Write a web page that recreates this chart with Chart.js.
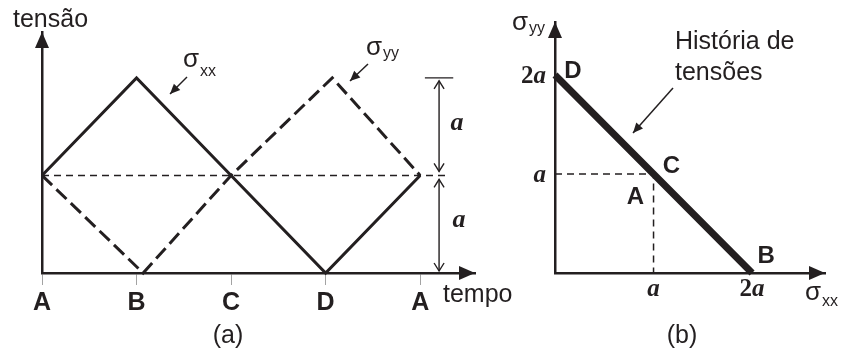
<!DOCTYPE html>
<html>
<head>
<meta charset="utf-8">
<script src="https://cdn.jsdelivr.net/npm/chart.js@4.4.1/dist/chart.umd.min.js"></script>
<style>
  body { margin: 0; background: #fff; }
  canvas { position: absolute; top: 0; }
  #canvas-tempo { left: 0; }
  #canvas-hist { left: 490px; }
</style>
</head>
<body>
<canvas id="canvas-tempo" width="530" height="356"></canvas>
<canvas id="canvas-hist" width="355" height="356"></canvas>
<script>
// tensões em unidades de a, tempo em quartos de ciclo
const tempoLabels = ["A", "B", "C", "D", "A"];
const tempoXX = [0, 1, 2, 3, 4];
const sigmaXX = [1, 2, 1, 0, 1];
const tempoYY = [0, 1.07, 2, 3.07, 4];
const sigmaYY = [1, 0, 1, 2, 1];
const nivelTempo = [0, 4.28];
const nivelSigma = [1, 1];

// linhas de chamada do ponto A no plano (b)
const guiaXX = [0, 1, 1];
const guiaYY = [1, 1, 0];
const eixoTicks = [1, 2];

const INK = "#231f20";
const SANS = '"Liberation Sans", Arial, sans-serif';
const SERIF = '"Liberation Serif", "Times New Roman", serif';

const pts = (xs, ys) => xs.map((x, i) => ({ x: x, y: ys[i] }));

function arrowHead(ctx, x, y, ang, len, half) {
  ctx.save();
  ctx.translate(x, y);
  ctx.rotate(ang);
  ctx.beginPath();
  ctx.moveTo(0, 0);
  ctx.lineTo(-len, -half);
  ctx.lineTo(-len, half);
  ctx.closePath();
  ctx.fill();
  ctx.restore();
}

function openHead(ctx, x, y, ang) {
  ctx.save();
  ctx.translate(x, y);
  ctx.rotate(ang);
  ctx.beginPath();
  ctx.moveTo(-8, -5);
  ctx.lineTo(0, 0);
  ctx.lineTo(-8, 5);
  ctx.stroke();
  ctx.restore();
}

function pointer(ctx, x1, y1, x2, y2) {
  ctx.lineWidth = 1.5;
  ctx.beginPath();
  ctx.moveTo(x1, y1);
  ctx.lineTo(x2, y2);
  ctx.stroke();
  arrowHead(ctx, x2, y2, Math.atan2(y2 - y1, x2 - x1), 10, 4.5);
}

function sigmaLabel(ctx, x, y, sub, dy) {
  ctx.textAlign = "left";
  ctx.textBaseline = "alphabetic";
  ctx.font = "26px " + SANS;
  ctx.fillText("σ", x, y);
  const w = ctx.measureText("σ").width;
  ctx.font = "16px " + SANS;
  ctx.fillText(sub, x + w + 1, y + dy);
}

function aLabel(ctx, text, x, y, align) {
  // "2" reto e "a" em itálico
  ctx.textBaseline = "middle";
  const num = text.slice(0, -1);
  ctx.font = "bold 25px " + SERIF;
  const wn = ctx.measureText(num).width;
  ctx.font = "italic bold 25px " + SERIF;
  const wa = ctx.measureText("a").width;
  let left = x;
  if (align === "center") left = x - (wn + wa) / 2;
  if (align === "right") left = x - (wn + wa);
  ctx.textAlign = "left";
  ctx.font = "bold 25px " + SERIF;
  ctx.fillText(num, left, y);
  ctx.font = "italic bold 25px " + SERIF;
  ctx.fillText("a", left + wn, y);
}

const tempoNotes = {
  id: "tempoNotes",
  afterDraw(chart) {
    const { ctx, chartArea: area, scales: { x, y } } = chart;
    ctx.save();
    ctx.fillStyle = INK;
    ctx.strokeStyle = INK;

    arrowHead(ctx, area.left, area.top, -Math.PI / 2, 16, 7);
    arrowHead(ctx, area.right, area.bottom, 0, 16, 7);

    // cota da amplitude a
    const bx = x.getPixelForValue(4.2);
    const y2 = y.getPixelForValue(2), y1 = y.getPixelForValue(1), y0 = y.getPixelForValue(0);
    ctx.lineWidth = 1.4;
    ctx.beginPath();
    ctx.moveTo(x.getPixelForValue(4.05), y2);
    ctx.lineTo(x.getPixelForValue(4.35), y2);
    ctx.moveTo(bx, y2 + 3);
    ctx.lineTo(bx, y1 - 4);
    ctx.moveTo(bx, y1 + 4);
    ctx.lineTo(bx, y0 - 2);
    ctx.stroke();
    openHead(ctx, bx, y2 + 3, -Math.PI / 2);
    openHead(ctx, bx, y1 - 4, Math.PI / 2);
    openHead(ctx, bx, y1 + 4, -Math.PI / 2);
    openHead(ctx, bx, y0 - 2, Math.PI / 2);
    ctx.font = "italic bold 26px " + SERIF;
    ctx.textAlign = "center";
    ctx.textBaseline = "middle";
    ctx.fillText("a", bx + 18, (y2 + y1) / 2 - 3);
    ctx.fillText("a", bx + 20, (y1 + y0) / 2 - 4);

    sigmaLabel(ctx, 183, 67, "xx", 9);
    pointer(ctx, 187, 77, 170, 94);
    sigmaLabel(ctx, 366, 55, "yy", 3);
    pointer(ctx, 368, 64, 350, 81);

    ctx.font = "25px " + SANS;
    ctx.textAlign = "left";
    ctx.textBaseline = "alphabetic";
    ctx.fillText("tensão", 13, 27);
    ctx.fillText("tempo", 443, 302);
    ctx.textAlign = "center";
    ctx.textBaseline = "middle";
    ctx.fillText("(a)", 228, 336);
    ctx.restore();
  }
};

const histNotes = {
  id: "histNotes",
  afterDraw(chart) {
    const { ctx, chartArea: area, scales: { x, y } } = chart;
    ctx.save();
    ctx.fillStyle = INK;
    ctx.strokeStyle = INK;

    arrowHead(ctx, area.left, area.top, -Math.PI / 2, 16, 7);
    arrowHead(ctx, area.right, area.bottom, 0, 16, 7);

    eixoTicks.forEach((v) => {
      const t = v === 1 ? "a" : v + "a";
      aLabel(ctx, t, x.getPixelForValue(0) - 9, y.getPixelForValue(v) + 2, "right");
      aLabel(ctx, t, x.getPixelForValue(v), y.getPixelForValue(0) + 17, "center");
    });

    // letras dos instantes sobre a trajetória
    const offs = { A: [-18, 23], B: [14, -17], C: [18, -8], D: [18, -4] };
    ctx.font = "bold 24px " + SANS;
    ctx.textAlign = "center";
    ctx.textBaseline = "middle";
    tempoLabels.slice(0, 4).forEach((lab, i) => {
      const o = offs[lab];
      ctx.fillText(lab, x.getPixelForValue(sigmaXX[i]) + o[0], y.getPixelForValue(sigmaYY[i]) + o[1]);
    });

    sigmaLabel(ctx, 22, 30, "yy", 3);
    sigmaLabel(ctx, 315, 300, "xx", 6);

    ctx.font = "25px " + SANS;
    ctx.textAlign = "left";
    ctx.textBaseline = "alphabetic";
    ctx.fillText("História de", 185, 49);
    ctx.fillText("tensões", 185, 80);
    pointer(ctx, 183, 88, 143, 133);
    ctx.textAlign = "center";
    ctx.textBaseline = "middle";
    ctx.fillText("(b)", 192, 336);
    ctx.restore();
  }
};

new Chart(document.getElementById("canvas-tempo"), {
  type: "scatter",
  data: {
    datasets: [
      {
        label: "σxx",
        data: pts(tempoXX, sigmaXX),
        showLine: true,
        borderColor: INK,
        borderWidth: 3,
        pointRadius: 0,
        clip: false
      },
      {
        label: "σyy",
        data: pts(tempoYY, sigmaYY),
        showLine: true,
        borderColor: INK,
        borderWidth: 3,
        borderDash: [14, 6],
        pointRadius: 0,
        clip: false
      },
      {
        label: "a",
        data: pts(nivelTempo, nivelSigma),
        showLine: true,
        borderColor: INK,
        borderWidth: 1.6,
        borderDash: [7, 5],
        pointRadius: 0,
        clip: false
      }
    ]
  },
  options: {
    responsive: false,
    animation: false,
    layout: { padding: { top: 32, right: 55, left: 0, bottom: 0 } },
    plugins: { legend: { display: false }, tooltip: { enabled: false } },
    scales: {
      x: {
        type: "linear",
        min: 0,
        max: 4.58,
        afterBuildTicks: (s) => { s.ticks = tempoXX.map((v) => ({ value: v })); },
        afterFit: (s) => { s.height = 83; },
        ticks: {
          callback: (v, i) => tempoLabels[i],
          color: INK,
          font: { family: SANS, size: 25, weight: "bold" },
          padding: 3,
          maxRotation: 0,
          autoSkip: false
        },
        grid: { drawOnChartArea: false, drawTicks: true, tickLength: 12, tickColor: "#a3a3a3", lineWidth: 1 },
        border: { color: INK, width: 2.5 }
      },
      y: {
        min: 0,
        max: 2.47,
        afterFit: (s) => { s.width = 42; },
        ticks: { display: false },
        grid: { display: false },
        border: { color: INK, width: 2.5 }
      }
    }
  },
  plugins: [tempoNotes]
});

new Chart(document.getElementById("canvas-hist"), {
  type: "scatter",
  data: {
    datasets: [
      {
        label: "história",
        data: pts(sigmaXX, sigmaYY),
        showLine: true,
        borderColor: INK,
        borderWidth: 7,
        borderCapStyle: "butt",
        borderJoinStyle: "bevel",
        pointRadius: 0,
        clip: false
      },
      {
        label: "guia",
        data: pts(guiaXX, guiaYY),
        showLine: true,
        borderColor: INK,
        borderWidth: 1.5,
        borderDash: [7, 5],
        pointRadius: 0,
        clip: false
      }
    ]
  },
  options: {
    responsive: false,
    animation: false,
    layout: { padding: { top: 22, right: 20, left: 0, bottom: 0 } },
    plugins: { legend: { display: false }, tooltip: { enabled: false } },
    scales: {
      x: {
        type: "linear",
        min: 0,
        max: 2.74,
        afterFit: (s) => { s.height = 83; },
        ticks: { display: false },
        grid: { display: false },
        border: { color: INK, width: 2.5 }
      },
      y: {
        min: 0,
        max: 2.535,
        afterFit: (s) => { s.width = 65; },
        ticks: { display: false },
        grid: { display: false },
        border: { color: INK, width: 2.5 }
      }
    }
  },
  plugins: [histNotes]
});
</script>
</body>
</html>
